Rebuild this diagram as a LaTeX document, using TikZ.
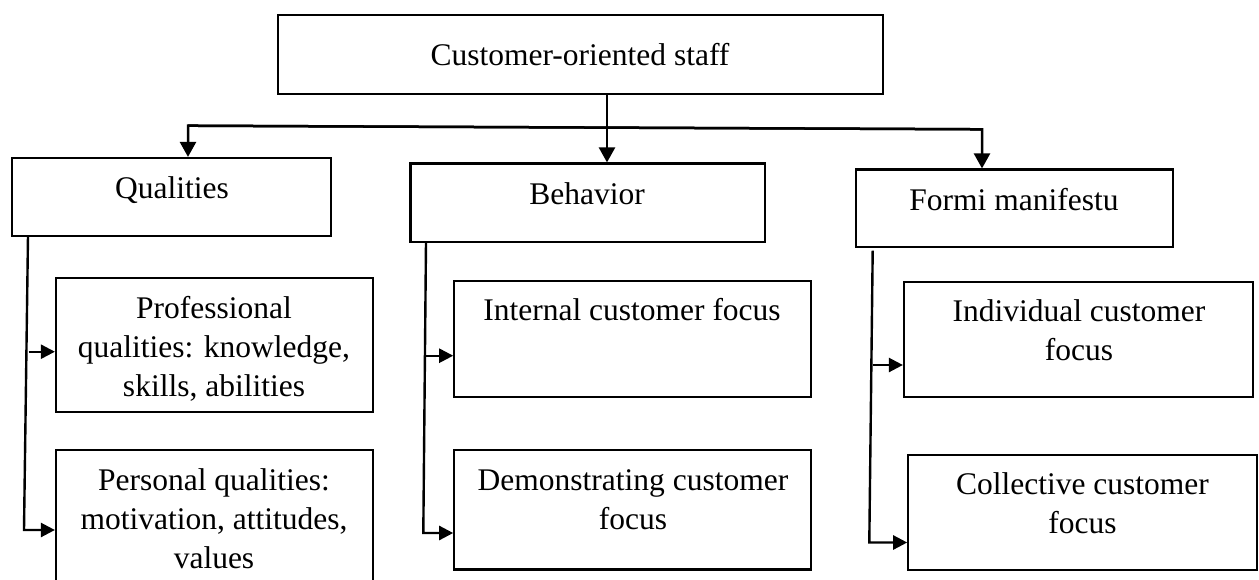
\documentclass[tikz,border=0pt]{standalone}
\usepackage{fontspec}
\setmainfont{Liberation Serif}
\usetikzlibrary{arrows.meta}
\begin{document}
\begin{tikzpicture}[x=1pt,y=-1pt,
  box/.style={draw, line width=2.2pt, inner sep=0pt, rectangle},
  caption/.style={align=center, inner sep=0pt, font=\fontsize{31.5}{39}\selectfont},
  down arrow/.style={line width=2.5pt, -{Triangle[length=15pt,width=16pt]}},
  side arrow/.style={line width=2.4pt, -{Triangle[length=14pt,width=14pt]}},
]
\useasboundingbox (0,0) rectangle (1259,579);

% frames
\node[box, minimum width=605pt,   minimum height=79pt]    (top)   at (580.5,54.5)   {};
\node[box, minimum width=318.7pt, minimum height=77.7pt]  (qual)  at (171.65,196.85) {};
\node[box, minimum width=354.5pt, minimum height=78.2pt]  (beh)   at (587.75,202.6) {};
\node[box, minimum width=317pt,   minimum height=77.5pt]  (formi) at (1014.5,208.25) {};
\node[box, minimum width=316.7pt, minimum height=134pt]   (prof)  at (214.35,344.7) {};
\node[box, minimum width=316.7pt, minimum height=150pt]   (pers)  at (214.35,525)   {};
\node[box, minimum width=356.7pt, minimum height=116.6pt] (intl)  at (632.65,339)   {};
\node[box, minimum width=356.7pt, minimum height=119.5pt] (demo)  at (632.65,509.75) {};
\node[box, minimum width=349.3pt, minimum height=115pt]   (indiv) at (1078.65,339.8) {};
\node[box, minimum width=348.4pt, minimum height=115pt]   (coll)  at (1082.5,512.5) {};

% captions (placed by the baseline of their last line)
\node[caption, anchor=base] (top-t)   at (580,65)    {Customer-oriented staff};
\node[caption, anchor=base] (qual-t)  at (172,198)   {Qualities};
\node[caption, anchor=base] (beh-t)   at (587,204)   {Behavior};
\node[caption, anchor=base] (formi-t) at (1014,210)  {Formi manifestu};
\node[caption, anchor=base] (prof-t)  at (214,396.5) {Professional\\qualities: knowledge,\\skills, abilities};
\node[caption, anchor=base] (pers-t)  at (214,568)   {Personal qualities:\\motivation, attitudes,\\values};
\node[caption, anchor=base] (intl-t)  at (632,320)   {Internal customer focus};
\node[caption, anchor=base] (demo-t)  at (633,529.5) {Demonstrating customer\\focus};
\node[caption, anchor=base] (indiv-t) at (1079,360.7) {Individual customer\\focus};
\node[caption, anchor=base] (coll-t)  at (1082.5,533.5) {Collective customer\\focus};

% distribution bar under the top frame
\coordinate (hl) at (188,125.7);
\coordinate (hr) at (982,129.3);
\path (top.south) ++(26.5,0) coordinate (tc);
\draw[down arrow] (hr) -- (hl) -- (hl |- qual.north);
\draw[down arrow] (hl) -- (hr) -- (hr |- formi.north);
\draw[down arrow] (tc) -- (tc |- beh.north);

% branch under "Qualities"
\coordinate (qa) at (28,235.7);
\coordinate (qb) at (24,530);
\coordinate (qm) at (28.5,351.7);
\draw[side arrow] (qa) -- (qb) -- (qb -| pers.west);
\draw[side arrow] (qm) -- (qm -| prof.west);

% branch under "Behavior"
\coordinate (ba) at (426,241.7);
\coordinate (bb) at (423.3,533);
\coordinate (bm) at (426,355.7);
\draw[side arrow] (ba) -- (bb) -- (bb -| demo.west);
\draw[side arrow] (bm) -- (bm -| intl.west);

% branch under "Formi manifestu"
\coordinate (fa) at (872.7,250.7);
\coordinate (fb) at (869.3,542.5);
\coordinate (fm) at (872.5,365);
\draw[side arrow] (fa) -- (fb) -- (fb -| coll.west);
\draw[side arrow] (fm) -- (fm -| indiv.west);
\end{tikzpicture}
\end{document}
